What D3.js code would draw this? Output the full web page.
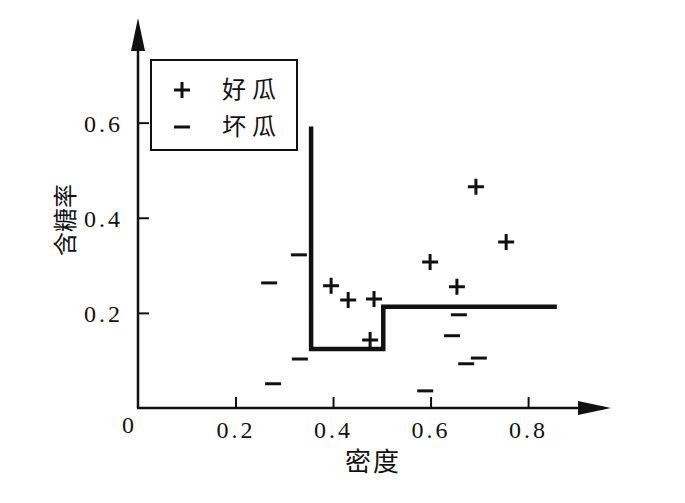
<!DOCTYPE html>
<html>
<head>
<meta charset="utf-8">
<script src="https://cdn.jsdelivr.net/npm/d3@7"></script>
<style>
  body { margin: 0; background: #fff; }
  svg { display: block; }
  .tick text { font-family: "Liberation Serif", "DejaVu Serif", serif; font-size: 24px; fill: #111; letter-spacing: 3px; }
  .cjk { font-family: "Noto Sans CJK SC", sans-serif; fill: #111; }
</style>
</head>
<body>
<svg id="chart" width="685" height="503"></svg>
<script>
// good melons (+)
var goodDensity = [0.396, 0.431, 0.484, 0.476, 0.599, 0.654, 0.693, 0.755];
var goodSugar   = [0.257, 0.227, 0.229, 0.143, 0.307, 0.255, 0.465, 0.349];
// bad melons (-)
var badDensity = [0.269, 0.330, 0.332, 0.277, 0.589, 0.658, 0.644, 0.699, 0.673];
var badSugar   = [0.263, 0.322, 0.103, 0.051, 0.036, 0.196, 0.152, 0.105, 0.093];
// decision boundary (step line)
var boundaryX = [0.355, 0.355, 0.503, 0.503, 0.859];
var boundaryY = [0.592, 0.124, 0.124, 0.213, 0.213];

var xTicks = [0.2, 0.4, 0.6, 0.8];
var yTicks = [0.2, 0.4, 0.6];
var legendLabels = ["好瓜", "坏瓜"];

var svg = d3.select("#chart");

var x = d3.scaleLinear().domain([0, 0.97]).range([138, 611]);
var y = d3.scaleLinear().domain([0, 0.82]).range([408, 18]);

// axes
var xAxis = d3.axisBottom(x).tickValues(xTicks).tickSizeInner(-11).tickSizeOuter(0)
    .tickPadding(13).tickFormat(d3.format(".1f"));
var yAxis = d3.axisLeft(y).tickValues(yTicks).tickSizeInner(-11).tickSizeOuter(0)
    .tickPadding(15).tickFormat(d3.format(".1f"));

var gx = svg.append("g").attr("transform", "translate(0," + y(0) + ")").call(xAxis);
var gy = svg.append("g").attr("transform", "translate(" + x(0) + ",0)").call(yAxis);
gx.select(".domain").remove();
gy.select(".domain").remove();
svg.selectAll(".tick line").attr("stroke", "#111").attr("stroke-width", 2);
gy.selectAll(".tick text").attr("dy", "0.35em");

// axis lines with arrow heads
svg.append("line")
    .attr("x1", x(0)).attr("y1", y(0)).attr("x2", x(0)).attr("y2", y.range()[1] + 20)
    .attr("stroke", "#111").attr("stroke-width", 2.5);
svg.append("line")
    .attr("x1", x(0) - 1).attr("y1", y(0)).attr("x2", x.range()[1] - 20).attr("y2", y(0))
    .attr("stroke", "#111").attr("stroke-width", 2.5);
var tipY = y.range()[1], tipX = x.range()[1];
svg.append("path")
    .attr("d", "M" + x(0) + "," + tipY + "L" + (x(0) + 7) + "," + (tipY + 33) + "L" + (x(0) - 7) + "," + (tipY + 33) + "Z")
    .attr("fill", "#111");
svg.append("path")
    .attr("d", "M" + tipX + "," + y(0) + "L" + (tipX - 33) + "," + (y(0) - 7) + "L" + (tipX - 33) + "," + (y(0) + 7) + "Z")
    .attr("fill", "#111");

// origin label
svg.append("text")
    .attr("x", x(0) - 10).attr("y", y(0) + 25)
    .attr("text-anchor", "middle")
    .style("font-family", "Liberation Serif, serif").style("font-size", "24px").style("fill", "#111")
    .text("0");

// axis titles
svg.append("text").attr("class", "cjk")
    .attr("x", 373).attr("y", 471)
    .attr("text-anchor", "middle").style("font-size", "26px").style("letter-spacing", "2px")
    .text("密度");
svg.append("text").attr("class", "cjk")
    .attr("transform", "translate(74,220) rotate(-90)")
    .attr("text-anchor", "middle").style("font-size", "24px")
    .text("含糖率");

// decision boundary
var boundary = d3.range(boundaryX.length).map(function(i) { return [boundaryX[i], boundaryY[i]]; });
svg.append("path")
    .datum(boundary)
    .attr("d", d3.line().x(function(d) { return x(d[0]); }).y(function(d) { return y(d[1]); }))
    .attr("fill", "none").attr("stroke", "#111").attr("stroke-width", 4.5)
    .attr("stroke-linejoin", "miter");

// markers
var s = 8;
svg.append("g").selectAll("path")
    .data(d3.range(goodDensity.length))
    .enter().append("path")
    .attr("d", function(i) {
      var cx = x(goodDensity[i]), cy = y(goodSugar[i]);
      return "M" + (cx - s) + "," + cy + "H" + (cx + s) + "M" + cx + "," + (cy - s) + "V" + (cy + s);
    })
    .attr("stroke", "#111").attr("stroke-width", 3).attr("fill", "none");

svg.append("g").selectAll("path")
    .data(d3.range(badDensity.length))
    .enter().append("path")
    .attr("d", function(i) {
      var cx = x(badDensity[i]), cy = y(badSugar[i]);
      return "M" + (cx - s) + "," + cy + "H" + (cx + s);
    })
    .attr("stroke", "#111").attr("stroke-width", 3).attr("fill", "none");

// legend
var legend = svg.append("g");
legend.append("rect")
    .attr("x", 151).attr("y", 60).attr("width", 146).attr("height", 90)
    .attr("fill", "#fff").attr("stroke", "#111").attr("stroke-width", 2);
legend.append("path")
    .attr("d", "M" + 174 + ",90H190M182,82V98")
    .attr("stroke", "#111").attr("stroke-width", 3);
legend.append("path")
    .attr("d", "M174,127H190")
    .attr("stroke", "#111").attr("stroke-width", 3);
legend.selectAll("text.lab")
    .data(legendLabels)
    .enter().append("text")
    .attr("class", "cjk lab")
    .attr("x", 222).attr("y", function(d, i) { return 98 + i * 37; })
    .style("font-size", "24px").style("letter-spacing", "6px")
    .text(function(d) { return d; });
</script>
</body>
</html>
